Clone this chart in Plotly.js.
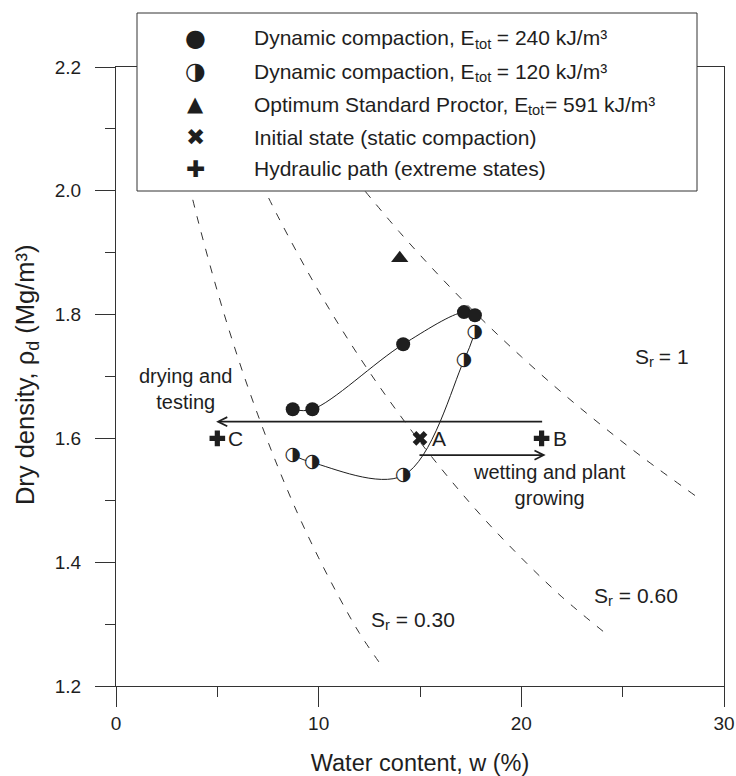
<!DOCTYPE html>
<html><head><meta charset="utf-8">
<script src="https://cdn.plot.ly/plotly-3.0.1.min.js"></script>
<style>html,body{margin:0;padding:0;background:#fff}#chart{width:736px;height:776px}</style>
</head><body><div id="chart"></div>
<script>
// ---------- data ----------
const dyn240_w   = [8.72, 9.69, 14.17, 17.17, 17.71];
const dyn240_rho = [1.647, 1.647, 1.752, 1.804, 1.799];
const dyn120_w   = [8.72, 9.69, 14.17, 17.17, 17.71];
const dyn120_rho = [1.573, 1.561, 1.540, 1.726, 1.771];
const proctor_w   = [14.0];
const proctor_rho = [1.891];
const initial_w   = [15.0];
const initial_rho = [1.60];
const initial_lbl = ['A'];
const hydraulic_w   = [5.0, 21.0];
const hydraulic_rho = [1.60, 1.60];
const hydraulic_lbl = ['C', 'B'];
// saturation lines
const sr030_w   = [3.2, 4, 5, 6, 7, 8, 9, 10, 11, 12, 13.1];
const sr030_rho = [2.066, 1.958, 1.838, 1.732, 1.638, 1.553, 1.476, 1.407, 1.344, 1.286, 1.233];
const sr060_w   = [6.8, 8, 10, 12, 14, 16, 18, 20, 22, 24.35];
const sr060_rho = [2.038, 1.958, 1.838, 1.732, 1.638, 1.553, 1.476, 1.407, 1.344, 1.280];
const sr100_w   = [12.3, 14, 16, 18, 20, 22, 24, 26, 28.6];
const sr100_rho = [1.999, 1.933, 1.861, 1.794, 1.732, 1.674, 1.620, 1.569, 1.507];
// hydraulic path arrows [tail, tip]
const drying_w   = [21.1, 4.94];
const drying_rho = [1.627, 1.627];
const wetting_w   = [14.9, 21.2];
const wetting_rho = [1.573, 1.573];
// text labels (segments: [text, isSubscript])
const legendLabels = [
  [['Dynamic compaction, E', 0], ['tot', 1], [' = 240 kJ/m\u00B3', 0]],
  [['Dynamic compaction, E', 0], ['tot', 1], [' = 120 kJ/m\u00B3', 0]],
  [['Optimum Standard Proctor, E', 0], ['tot', 1], ['= 591 kJ/m\u00B3', 0]],
  [['Initial state (static compaction)', 0]],
  [['Hydraulic path (extreme states)', 0]]
];
const legendGlyphs = ['\u25CF', '\u25D1', '\u25B2', '\u2716', '\u271A'];
const srLabels = [
  [['S', 0], ['r', 1], [' = 1', 0]],
  [['S', 0], ['r', 1], [' = 0.60', 0]],
  [['S', 0], ['r', 1], [' = 0.30', 0]]
];
const srLabel_w   = [26.94, 25.65, 14.65];
const srLabel_rho = [1.733, 1.347, 1.308];
const pathLabels = ['drying and<br>testing', 'wetting and plant<br>growing'];
const pathLabel_w   = [3.45, 21.41];
const pathLabel_rho = [1.680, 1.525];
const xTitle = 'Water content, w (%)';
const yTitle = [['Dry density, \u03C1', 0], ['d', 1], [' (Mg/m\u00B3)', 0]];

// ---------- layout helpers ----------
const W = 736, H = 776, ML = 116, MR = 12, MT = 67, MB = 90;
const PW = W - ML - MR, PH = H - MT - MB;
const pxX = p => (p - ML) / PW;
const pxY = p => (H - MB - p) / PH;
const FONT = 'Liberation Sans, Arial, Helvetica, sans-serif';
const INK = '#1e1e1e';
const glyphSizes = [24, 24, 21, 23, 23];

const cv = document.createElement('canvas').getContext('2d');
function textWidth(t, size) { cv.font = size + 'px "Liberation Sans", Arial, sans-serif'; return cv.measureText(t).width; }
// build a text with subscripts from several plain annotations
function richText(segs, base, size, align, vertical) {
  const subSize = Math.round(size * 0.7 * 10) / 10;
  const drop = 0.3 * size;
  const widths = segs.map(([t, s]) => textWidth(t, s ? subSize : size));
  const total = widths.reduce((a, b) => a + b, 0);
  let off = align === 'left' ? 0 : -total / 2;
  return segs.map(([t, s], i) => {
    const along = off + widths[i] / 2;
    off += widths[i];
    const a = Object.assign({}, base, {
      text: t, showarrow: false, xanchor: 'center', yanchor: 'middle',
      font: {family: FONT, size: s ? subSize : size, color: INK}
    });
    if (vertical) {
      a.textangle = -90;
      a.yshift = along;
      a.xshift = s ? drop : 0;
    } else {
      a.xshift = (base.xshift || 0) + along;
      a.yshift = s ? -drop : 0;
    }
    return a;
  });
}

const dashLine = {color: '#333', width: 1, dash: '8px,9px', shape: 'spline', smoothing: 1};
const traces = [
  {x: sr030_w, y: sr030_rho, mode: 'lines', line: dashLine, hoverinfo: 'skip'},
  {x: sr060_w, y: sr060_rho, mode: 'lines', line: dashLine, hoverinfo: 'skip'},
  {x: sr100_w, y: sr100_rho, mode: 'lines', line: dashLine, hoverinfo: 'skip'},
  {x: dyn240_w, y: dyn240_rho, mode: 'lines', line: {color: INK, width: 1, shape: 'spline', smoothing: 1}},
  {x: dyn120_w, y: dyn120_rho, mode: 'lines', line: {color: INK, width: 1, shape: 'spline', smoothing: 1}},
  {x: dyn240_w, y: dyn240_rho, mode: 'markers', marker: {symbol: 'circle', size: 14, color: INK, line: {width: 0}}},
  {x: dyn120_w, y: dyn120_rho, mode: 'markers', marker: {symbol: 'circle', size: 13, color: '#fff', line: {width: 0}}},
  {x: dyn120_w, y: dyn120_rho, mode: 'text', text: dyn120_w.map(() => legendGlyphs[1]),
   textposition: 'middle center', textfont: {family: 'DejaVu Sans', size: 19, color: INK}},
  {x: proctor_w, y: proctor_rho, mode: 'markers', marker: {symbol: 'triangle-up', size: 15, color: INK}},
  {x: initial_w, y: initial_rho, mode: 'markers', marker: {symbol: 'x', size: 13, color: INK, line: {width: 0}}},
  {x: hydraulic_w, y: hydraulic_rho, mode: 'markers', marker: {symbol: 'cross', size: 13, color: INK, line: {width: 0}}}
];

let annotations = [];
// legend
const rowY = [38, 71, 104, 137, 169];
legendLabels.forEach((segs, i) => {
  annotations = annotations.concat(richText(segs,
    {xref: 'paper', yref: 'paper', x: pxX(254), y: pxY(rowY[i])}, 21, 'left'));
  annotations.push({xref: 'paper', yref: 'paper', x: pxX(195), y: pxY(rowY[i]), text: legendGlyphs[i],
    xanchor: 'center', yanchor: 'middle', showarrow: false, font: {family: 'DejaVu Sans', size: glyphSizes[i], color: INK}});
});
// point labels
initial_lbl.forEach((t, i) => annotations.push({x: initial_w[i], y: initial_rho[i], text: t, xanchor: 'left',
  yanchor: 'middle', xshift: 10, showarrow: false, font: {family: FONT, size: 21, color: INK}}));
hydraulic_lbl.forEach((t, i) => annotations.push({x: hydraulic_w[i], y: hydraulic_rho[i], text: t, xanchor: 'left',
  yanchor: 'middle', xshift: 9, showarrow: false, font: {family: FONT, size: 21, color: INK}}));
srLabels.forEach((segs, i) => {
  annotations = annotations.concat(richText(segs, {x: srLabel_w[i], y: srLabel_rho[i]}, 21, 'center'));
});
pathLabels.forEach((t, i) => annotations.push({x: pathLabel_w[i], y: pathLabel_rho[i], text: t, showarrow: false,
  align: 'center', font: {family: FONT, size: 20, color: INK}}));
// y axis title
annotations = annotations.concat(richText(yTitle, {xref: 'paper', yref: 'paper', x: pxX(25), y: pxY(375)}, 25.5, 'center', true));
// arrows
[[drying_w, drying_rho], [wetting_w, wetting_rho]].forEach(([w, r]) => annotations.push({
  x: w[1], y: r[1], ax: w[0], ay: r[0], axref: 'x', ayref: 'y', text: '', showarrow: true,
  arrowhead: 5, arrowsize: 1.0, arrowwidth: 1.8, arrowcolor: INK, standoff: 0, startstandoff: 0}));

const axisCommon = {
  showline: true, linecolor: '#333', linewidth: 1, mirror: true, showgrid: false, zeroline: false,
  ticks: 'outside', ticklen: 20, tickwidth: 1, tickcolor: '#333',
  tickfont: {family: FONT, size: 19, color: INK}
};
const layout = {
  width: W, height: H, margin: {l: ML, r: MR, t: MT, b: MB},
  paper_bgcolor: '#fff', plot_bgcolor: '#fff', showlegend: false,
  font: {family: FONT, color: INK, size: 19},
  xaxis: Object.assign({}, axisCommon, {
    range: [0, 30], tickmode: 'linear', tick0: 0, dtick: 10,
    minor: {dtick: 5, ticks: 'outside', ticklen: 10, tickcolor: '#333', showgrid: false},
    title: {text: xTitle, font: {family: FONT, size: 23.5, color: INK}, standoff: 22}
  }),
  yaxis: Object.assign({}, axisCommon, {
    range: [1.2, 2.2], tickmode: 'linear', tick0: 1.2, dtick: 0.2, tickformat: '.1f',
    ticklabelstandoff: 10,
    minor: {dtick: 0.1, ticks: 'outside', ticklen: 10, tickcolor: '#333', showgrid: false}
  }),
  shapes: [{type: 'rect', xref: 'paper', yref: 'paper', layer: 'above',
    x0: pxX(137), x1: pxX(697), y0: pxY(191), y1: pxY(13),
    fillcolor: '#fff', line: {color: '#333', width: 1}}],
  annotations: annotations
};
Plotly.newPlot('chart', traces, layout, {displayModeBar: false, staticPlot: true});
</script>
</body></html>
